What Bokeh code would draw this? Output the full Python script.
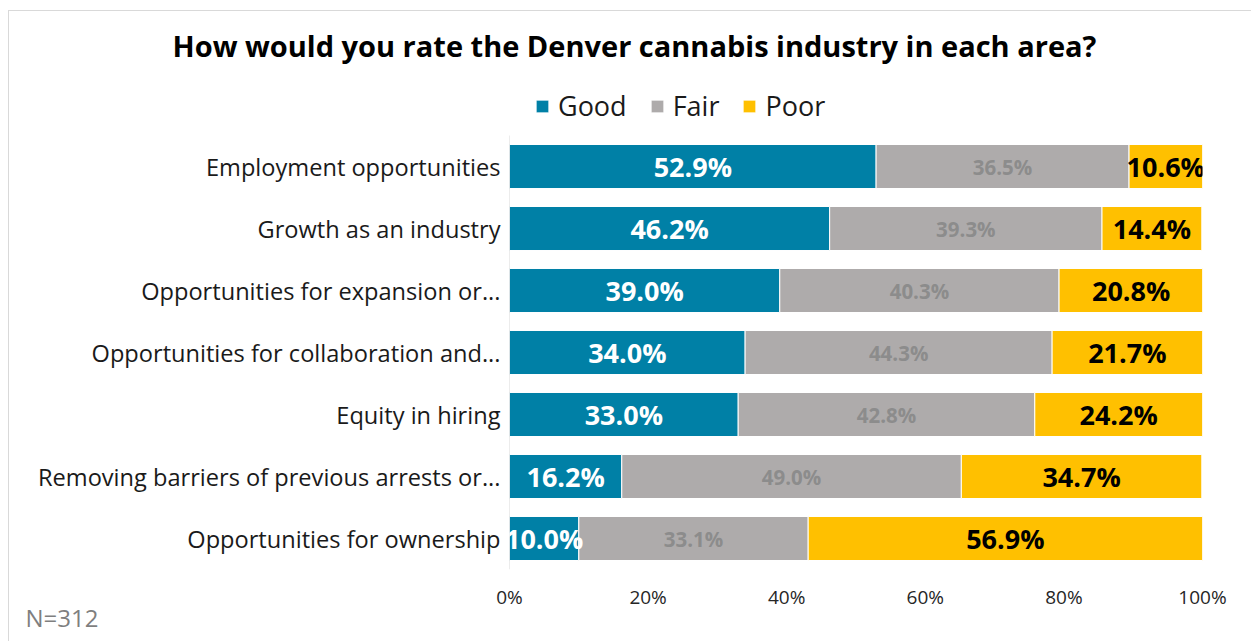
from bokeh.plotting import figure
from bokeh.models import (ColumnDataSource, FixedTicker, PrintfTickFormatter, Title,
                          Legend, LegendItem, Range1d)
from bokeh.core.properties import value
from bokeh.embed import file_html
from bokeh.resources import INLINE

# ---- data ----
categories = [
    "Employment opportunities",
    "Growth as an industry",
    "Opportunities for expansion or...",
    "Opportunities for collaboration and...",
    "Equity in hiring",
    "Removing barriers of previous arrests or...",
    "Opportunities for ownership",
]
good = [52.9, 46.2, 39.0, 34.0, 33.0, 16.2, 10.0]
fair = [36.5, 39.3, 40.3, 44.3, 42.8, 49.0, 33.1]
poor = [10.6, 14.4, 20.8, 21.7, 24.2, 34.7, 56.9]
series = ["Good", "Fair", "Poor"]
x_ticks = [0, 20, 40, 60, 80, 100]
title_text = "How would you rate the Denver cannabis industry in each area?"
note_text = "N=312"

colors = ["#0080A6", "#AEABAB", "#FFC000"]
FONT = "Open Sans"

n = len(categories)
ypos = [n - 1 - i for i in range(n)]          # first category on top
src = ColumnDataSource(dict(y=ypos, Good=good, Fair=fair, Poor=poor))

p = figure(width=1243, height=631, x_range=(0, 100), y_range=Range1d(-0.5, 7.468),
           output_backend="svg", toolbar_location=None,
           min_border_left=500, min_border_right=50, min_border_top=64, min_border_bottom=73)
p.styles = {"margin-left": "8px", "margin-top": "10px",
            "border-top": "1px solid #d9d9d9", "border-left": "1px solid #d9d9d9"}

renderers = p.hbar_stack(series, y="y", height=0.71, source=src, color=colors,
                         line_color="white", line_width=1)

# category axis line (spans only the category band)
p.segment(x0=[0], y0=[-0.5], x1=[0], y1=[n - 0.5], line_color="#D9D9D9", line_width=1)

# value labels
g_x, f_x, q_x = [], [], []
for a, b, c in zip(good, fair, poor):
    g_x.append(a / 2)
    f_x.append(a + b / 2)
    q_x.append(a + b + c / 2)
lab = ColumnDataSource(dict(
    y=ypos, gx=g_x, fx=f_x, qx=q_x,
    gt=[f"{v:.1f}%" for v in good], ft=[f"{v:.1f}%" for v in fair], qt=[f"{v:.1f}%" for v in poor]))
p.text(x="gx", y="y", text="gt", source=lab, text_align="center", text_baseline="middle",
       text_font=value(FONT), text_font_style="bold", text_font_size="27px", text_color="white")
p.text(x="fx", y="y", text="ft", source=lab, text_align="center", text_baseline="middle",
       text_font=value(FONT), text_font_style="bold", text_font_size="20.5px", text_color="#8C8C8C")
p.text(x="qx", y="y", text="qt", source=lab, text_align="center", text_baseline="middle",
       text_font=value(FONT), text_font_style="bold", text_font_size="27px", text_color="black")

# axes
p.xgrid.grid_line_color = None
p.ygrid.grid_line_color = None
p.outline_line_color = None

p.xaxis.ticker = FixedTicker(ticks=x_ticks)
p.xaxis.formatter = PrintfTickFormatter(format="%d%%")
p.xaxis.axis_line_color = None
p.xaxis.major_tick_line_color = None
p.xaxis.minor_tick_line_color = None
p.xaxis.major_tick_out = 0
p.xaxis.major_tick_in = 0
p.xaxis.minor_tick_out = 0
p.xaxis.major_label_standoff = 14
p.xaxis.major_label_text_font = FONT
p.xaxis.major_label_text_font_size = "19px"
p.xaxis.major_label_text_color = "#262626"

p.yaxis.ticker = FixedTicker(ticks=ypos)
p.yaxis.major_label_overrides = {y: c for y, c in zip(ypos, categories)}
p.yaxis.axis_line_color = None
p.yaxis.major_tick_line_color = None
p.yaxis.minor_tick_line_color = None
p.yaxis.major_tick_out = 0
p.yaxis.major_tick_in = 0
p.yaxis.minor_tick_out = 0
p.yaxis.major_label_standoff = 9
p.yaxis.major_label_text_font = FONT
p.yaxis.major_label_text_font_size = "23.6px"
p.yaxis.major_label_text_color = "#1A1A1A"

# title (left aligned with offset so it sits centred over the whole chart)
p.title.text = title_text
p.title.align = "left"
p.title.offset = -337
p.title.standoff = 22
p.title.text_font = FONT
p.title.text_font_style = "bold"
p.title.text_font_size = "29px"
p.title.text_color = "black"

# legend (inside the frame, above the bars)
legend = Legend(items=[LegendItem(label=s, renderers=[r]) for s, r in zip(series, renderers)],
                location=(25, 445), orientation="horizontal",
                label_text_font=FONT, label_text_font_size="27px", label_text_color="#1A1A1A",
                glyph_width=16, glyph_height=16, label_standoff=8, spacing=22,
                padding=0, margin=0, border_line_color=None, background_fill_alpha=0)
p.add_layout(legend)

# note
p.add_layout(Title(text=note_text, align="left", offset=-484, standoff=-24, vertical_align="top",
                   text_font=FONT, text_font_style="normal", text_font_size="24px",
                   text_color="#7F7F7F"),
             "below")

open("out.html", "w").write(file_html(p, INLINE))
